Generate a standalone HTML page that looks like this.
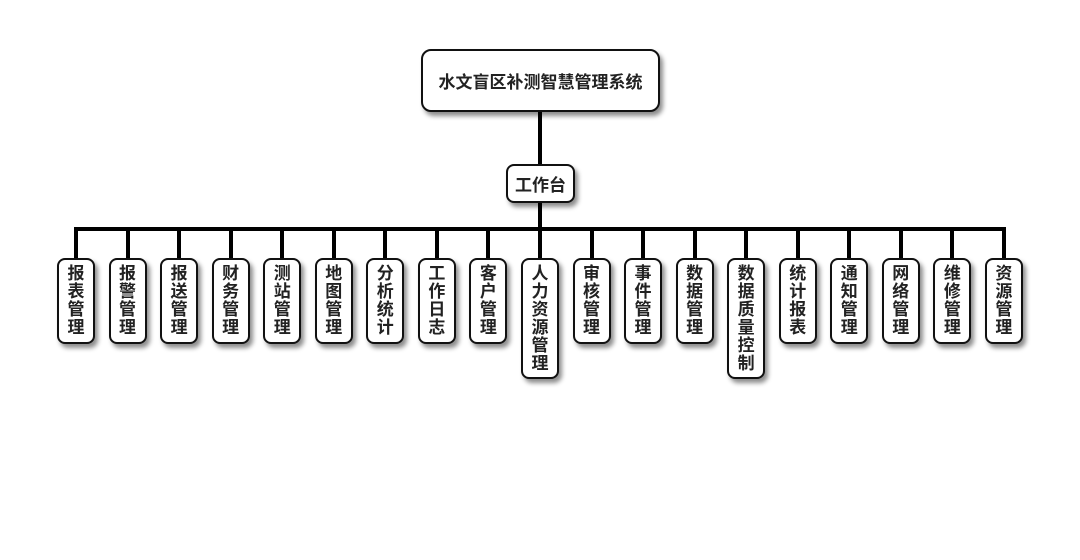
<!DOCTYPE html>
<html><head><meta charset="utf-8"><style>
body{margin:0;width:1080px;height:560px;background:#fff;position:relative;overflow:hidden;font-family:"Liberation Sans","Noto Sans CJK SC",sans-serif;}
.b{position:absolute;background:#fff;border:2px solid #111;box-sizing:border-box;border-radius:8px;box-shadow:3px 4px 5px rgba(0,0,0,0.45);font-weight:bold;color:#222;display:flex;align-items:center;justify-content:center;text-align:center}
.c{width:38px;top:258px;height:86px;font-size:17px;line-height:18px;padding:0 9px;word-break:break-all;}
.c.t{height:121px}
.l{position:absolute;background:#000}
</style></head><body>
<div class="l" style="left:538px;top:110px;width:4px;height:56px"></div>
<div class="l" style="left:538px;top:200px;width:4px;height:30px"></div>
<div class="l" style="left:74px;top:227px;width:932px;height:4px"></div>
<div class="b" style="left:421px;top:49px;width:239px;height:63px;font-size:17px;border-radius:10px">水文盲区补测智慧管理系统</div>
<div class="b" style="left:506px;top:164px;width:69px;height:39px;font-size:17px">工作台</div>
<div id="k"></div>
<script>
var n=["报表管理","报警管理","报送管理","财务管理","测站管理","地图管理","分析统计","工作日志","客户管理","人力资源管理","审核管理","事件管理","数据管理","数据质量控制","统计报表","通知管理","网络管理","维修管理","资源管理"];
var h="";
for(var i=0;i<n.length;i++){var cx=76+i*51.55;
h+='<div class="l" style="left:'+(cx-2)+'px;top:228px;width:4px;height:31px"></div>';
h+='<div class="b c'+(n[i].length>4?' t':'')+'" style="left:'+(cx-19)+'px">'+n[i]+'</div>';}
document.getElementById("k").innerHTML=h;
</script>
</body></html>
